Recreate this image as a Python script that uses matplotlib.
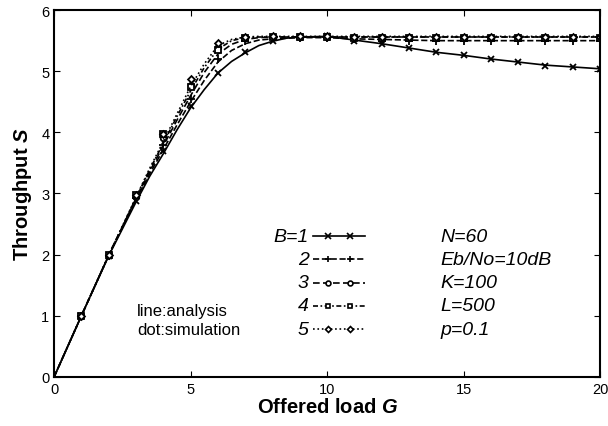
import matplotlib
matplotlib.use("Agg")
import matplotlib.pyplot as plt

plt.rcParams['font.family'] = ['Liberation Sans', 'DejaVu Sans']
plt.rcParams['mathtext.fontset'] = 'custom'
plt.rcParams['mathtext.bfit'] = 'Liberation Sans:bold:italic'

# analysis curves (lines)
G_an = [0, 1, 2, 3, 3.5, 4, 4.5, 5, 5.5, 6, 6.5, 7, 7.5, 8, 8.5, 9, 10, 11, 12, 13, 14, 15, 16, 17, 18, 19, 20]
S_an1 = [0, 1.0, 1.98, 2.86, 3.28, 3.65, 4.04, 4.40, 4.70, 4.97, 5.16, 5.30, 5.42, 5.49, 5.54, 5.56, 5.57, 5.51, 5.45, 5.38, 5.31, 5.26, 5.20, 5.15, 5.10, 5.07, 5.04]
S_an2 = [0, 1.0, 1.99, 2.90, 3.32, 3.72, 4.12, 4.50, 4.85, 5.15, 5.34, 5.45, 5.51, 5.53, 5.54, 5.55, 5.55, 5.53, 5.52, 5.51, 5.50, 5.50, 5.50, 5.50, 5.50, 5.50, 5.50]
S_an3 = [0, 1.0, 1.99, 2.92, 3.36, 3.78, 4.20, 4.60, 4.98, 5.28, 5.44, 5.52, 5.55, 5.56, 5.56, 5.56, 5.56, 5.56, 5.56, 5.56, 5.56, 5.56, 5.56, 5.56, 5.56, 5.56, 5.56]
S_an4 = [0, 1.0, 1.99, 2.93, 3.39, 3.82, 4.26, 4.68, 5.06, 5.36, 5.50, 5.55, 5.56, 5.56, 5.56, 5.56, 5.56, 5.56, 5.56, 5.56, 5.56, 5.56, 5.56, 5.56, 5.56, 5.56, 5.56]
S_an5 = [0, 1.0, 1.99, 2.94, 3.41, 3.85, 4.30, 4.75, 5.12, 5.42, 5.52, 5.56, 5.57, 5.57, 5.57, 5.57, 5.57, 5.57, 5.57, 5.57, 5.57, 5.57, 5.57, 5.57, 5.57, 5.57, 5.57]

# simulation points (dots)
G_sim = [1, 2, 3, 4, 5, 6, 7, 8, 9, 10, 11, 12, 13, 14, 15, 16, 17, 18, 19, 20]
S_sim1 = [1.0, 1.97, 2.88, 3.69, 4.43, 4.97, 5.31, 5.50, 5.56, 5.57, 5.49, 5.45, 5.38, 5.31, 5.26, 5.20, 5.15, 5.09, 5.07, 5.04]
S_sim2 = [1.0, 1.98, 2.92, 3.80, 4.55, 5.20, 5.50, 5.54, 5.55, 5.55, 5.52, 5.50, 5.49, 5.49, 5.49, 5.49, 5.49, 5.49, 5.49, 5.49]
S_sim3 = [1.0, 1.99, 2.95, 3.90, 4.78, 5.40, 5.55, 5.56, 5.56, 5.56, 5.55, 5.55, 5.55, 5.55, 5.55, 5.55, 5.55, 5.55, 5.55, 5.55]
S_sim4 = [1.0, 1.99, 2.97, 3.97, 4.75, 5.35, 5.54, 5.56, 5.56, 5.56, 5.55, 5.55, 5.55, 5.55, 5.55, 5.55, 5.55, 5.55, 5.55, 5.55]
S_sim5 = [1.0, 1.99, 2.97, 3.98, 4.88, 5.47, 5.56, 5.57, 5.57, 5.57, 5.56, 5.56, 5.56, 5.56, 5.56, 5.56, 5.56, 5.56, 5.56, 5.56]

labels = ['B=1', '2', '3', '4', '5']
params = ['N=60', 'Eb/No=10dB', 'K=100', 'L=500', 'p=0.1']

styles = [('-', 'x'), ('--', '+'), ((0, (4, 2)), 'o'), ((0, (3, 1.5, 1, 1.5)), 's'), (':', 'D')]
msizes = [4.5, 5.5, 4, 4, 3.5]

fig = plt.figure(figsize=(6.08, 4.27), dpi=100)
ax = fig.add_axes([0.089, 0.115, 0.898, 0.859])

an = [S_an1, S_an2, S_an3, S_an4, S_an5]
sim = [S_sim1, S_sim2, S_sim3, S_sim4, S_sim5]
for i in range(5):
    ls, mk = styles[i]
    ax.plot(G_an, an[i], color='black', linestyle=ls, linewidth=1.2)
    ax.plot(G_sim, sim[i], color='black', linestyle='none', marker=mk,
            markersize=msizes[i], markerfacecolor='white', markeredgewidth=1.3)

ax.set_xlim(0, 20)
ax.set_ylim(0, 6)
ax.set_xticks([0, 5, 10, 15, 20])
ax.set_yticks([0, 1, 2, 3, 4, 5, 6])
ax.tick_params(direction='in', top=True, right=True, labelsize=10.5, length=4)
for sp in ax.spines.values():
    sp.set_linewidth(1.5)

ax.set_xlabel('Offered load $\\boldsymbol{G}$', fontsize=14.5, fontweight='bold', labelpad=1)
ax.set_ylabel('Throughput $\\boldsymbol{S}$', fontsize=14.5, fontweight='bold', labelpad=5)

# hand-made legend
for i in range(5):
    ls, mk = styles[i]
    y = 0.384 - i * 0.0634
    ax.text(0.466, y, labels[i], transform=ax.transAxes, fontsize=14,
            style='italic', ha='right', va='center')
    ax.plot([0.474, 0.57], [y, y], transform=ax.transAxes, color='black',
            linestyle=ls, linewidth=1.2)
    ax.plot([0.502, 0.542], [y, y], transform=ax.transAxes, linestyle='none',
            marker=mk, color='black', markersize=msizes[i] - 0.5,
            markerfacecolor='white', markeredgewidth=1.2)
    ax.text(0.707, y, params[i], transform=ax.transAxes, fontsize=14,
            style='italic', ha='left', va='center')

ax.text(0.152, 0.155, 'line:analysis\ndot:simulation', transform=ax.transAxes,
        fontsize=12, ha='left', va='center', linespacing=1.3)

fig.savefig('out.png', dpi=100)
